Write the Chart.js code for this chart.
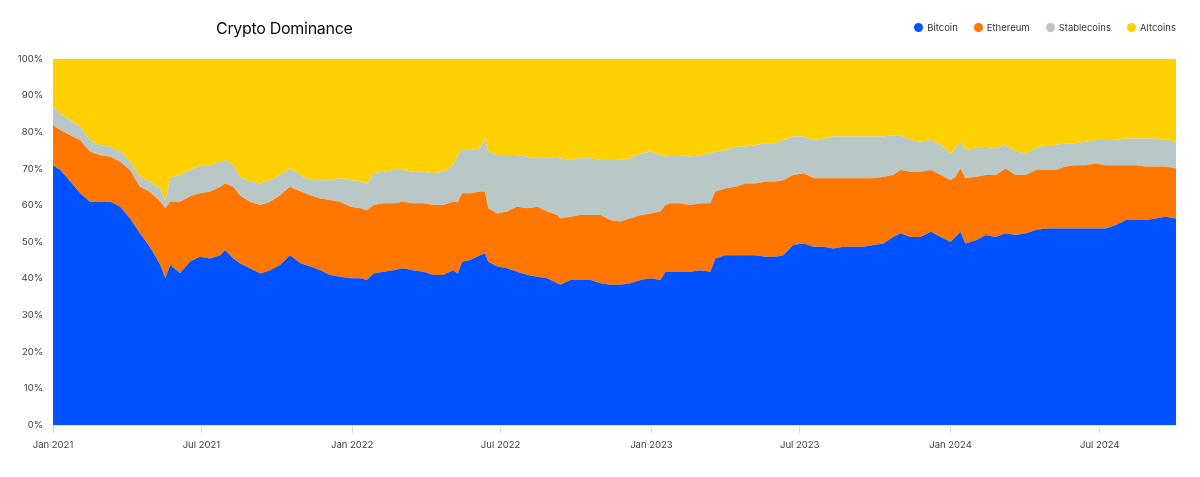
<!DOCTYPE html>
<html>
<head>
<meta charset="utf-8">
<script src="https://cdn.jsdelivr.net/npm/chart.js@4/dist/chart.umd.min.js"></script>
<style>
  html, body { margin: 0; padding: 0; background: #ffffff; }
  #wrap { position: relative; width: 1200px; height: 477px; font-family: Inter, "Noto Sans", sans-serif; }
  #title { position: absolute; left: 216px; top: 18px; font-size: 16px; color: #0a0b0d; letter-spacing: -0.3px; }
  #legend { position: absolute; right: 24px; top: 22px; display: flex; gap: 16px; font-size: 9.5px; color: #32353d; }
  #legend span.item { display: flex; align-items: center; }
  #legend i { display: inline-block; width: 9px; height: 9px; border-radius: 50%; margin-right: 4px; }
  canvas { position: absolute; left: 0; top: 0; }
</style>
</head>
<body>
<div id="wrap">
  <canvas id="c" width="1200" height="477"></canvas>
  <div id="title">Crypto Dominance</div>
  <div id="legend"></div>
</div>
<script>
// Days since 1 Jan 2021
const days = [0,9,21,33,45,57,70,82,94,106,118,131,137,143,155,167,179,192,204,210,220,228,240,253,265,277,289,302,314,326,338,350,363,375,383,391,403,415,427,439,452,464,476,488,494,499,509,521,527,531,542,554,566,579,591,603,615,619,631,643,656,668,680,692,704,717,729,741,747,753,765,778,790,802,808,820,833,845,857,869,881,891,903,916,928,940,952,964,977,989,1001,1013,1025,1034,1046,1058,1071,1083,1095,1101,1107,1113,1126,1138,1150,1162,1174,1187,1199,1211,1223,1235,1248,1260,1272,1284,1296,1309,1321,1333,1345,1357,1370];

const bitcoin = [71.0,69.7,66.5,63.4,61.0,61.0,61.0,59.6,56.4,52.4,48.7,43.7,40.1,43.7,41.5,44.6,46.0,45.5,46.4,47.8,45.5,44.2,42.8,41.4,42.3,43.7,46.4,44.2,43.3,42.3,41.0,40.5,40.1,40.1,39.6,41.4,41.9,42.3,42.8,42.3,41.9,41.0,41.0,42.3,41.4,44.6,45.1,46.4,46.9,44.6,43.3,42.8,41.9,41.0,40.5,40.1,38.7,38.3,39.6,39.6,39.6,38.7,38.3,38.3,38.7,39.6,40.1,39.6,41.9,41.9,41.9,41.9,42.3,41.9,45.5,46.4,46.4,46.4,46.4,46.0,46.0,46.4,49.2,49.6,48.7,48.7,48.2,48.7,48.7,48.7,49.2,49.6,51.4,52.4,51.4,51.4,52.8,51.4,50.1,51.4,52.8,49.6,50.5,51.9,51.4,52.4,51.9,52.4,53.3,53.7,53.7,53.7,53.7,53.7,53.7,53.7,54.6,56.0,56.0,56.0,56.4,56.9,56.4];

const ethereum = [10.8,10.9,12.7,14.5,13.7,12.8,12.3,12.3,13.3,12.7,15.0,17.3,19.1,17.3,19.5,17.8,17.3,18.3,18.7,18.2,19.6,18.6,18.2,18.7,18.7,19.1,18.7,19.6,19.5,19.6,20.5,20.5,19.5,19.1,19.1,18.7,18.7,18.3,18.2,18.3,18.7,19.1,19.1,18.7,19.6,18.7,18.2,17.4,16.9,14.6,14.5,15.5,17.7,18.2,19.1,18.2,18.7,18.1,17.3,17.8,17.8,18.7,17.7,17.3,17.7,17.8,17.7,18.7,18.2,18.7,18.7,18.2,18.3,18.7,18.3,18.2,18.7,19.6,19.6,20.5,20.5,20.5,19.1,19.2,18.7,18.7,19.2,18.7,18.7,18.7,18.2,18.2,16.9,17.3,17.8,17.8,16.9,16.9,16.8,16.4,17.3,17.8,17.3,16.4,16.9,17.7,16.4,15.9,16.4,16.0,16.0,16.9,17.3,17.3,17.8,17.3,16.4,15.0,15.0,14.6,14.2,13.7,13.7];

const stablecoins = [5.4,4.4,4.1,3.6,3.2,2.7,2.7,2.8,2.2,2.7,2.8,3.6,1.8,6.5,7.3,7.3,7.7,7.2,6.8,6.4,5.9,5.0,5.5,5.9,5.9,5.5,5.0,4.5,4.1,5.0,5.4,6.4,7.3,7.3,7.3,8.7,8.6,9.1,8.7,8.6,8.6,8.7,9.1,10.0,12.8,11.8,11.8,11.8,14.5,15.5,16.0,15.5,14.2,14.1,13.3,14.6,15.9,16.5,15.5,15.5,15.5,15.0,16.4,16.8,16.5,16.8,16.9,15.5,13.2,13.2,13.2,13.2,13.2,13.6,10.9,10.5,10.9,10.0,10.5,10.5,10.5,11.0,10.5,10.0,10.5,10.9,11.4,11.4,11.4,11.4,11.4,11.0,10.9,9.5,8.7,8.2,8.2,8.2,7.3,7.8,7.3,7.7,7.8,7.7,7.3,6.4,6.4,5.9,5.9,6.8,6.8,6.4,6.0,6.4,6.4,6.9,6.9,7.3,7.3,7.7,7.7,7.3,7.3];

const altcoins = [12.8,15.0,16.7,18.5,22.1,23.5,24.0,25.3,28.1,32.2,33.5,35.4,39.0,32.5,31.7,30.3,29.0,29.0,28.1,27.6,29.0,32.2,33.5,34.0,33.1,31.7,29.9,31.7,33.1,33.1,33.1,32.6,33.1,33.5,34.0,31.2,30.8,30.3,30.3,30.8,30.8,31.2,30.8,29.0,26.2,24.9,24.9,24.4,21.7,25.3,26.2,26.2,26.2,26.7,27.1,27.1,26.7,27.1,27.6,27.1,27.1,27.6,27.6,27.6,27.1,25.8,25.3,26.2,26.7,26.2,26.2,26.7,26.2,25.8,25.3,24.9,24.0,24.0,23.5,23.0,23.0,22.1,21.2,21.2,22.1,21.7,21.2,21.2,21.2,21.2,21.2,21.2,20.8,20.8,22.1,22.6,22.1,23.5,25.8,24.4,22.6,24.9,24.4,24.0,24.4,23.5,25.3,25.8,24.4,23.5,23.5,23.0,23.0,22.6,22.1,22.1,22.1,21.7,21.7,21.7,21.7,22.1,22.6];

const seriesNames = ['Bitcoin', 'Ethereum', 'Stablecoins', 'Altcoins'];
const seriesColors = ['#0052ff', '#ff7700', '#b9c8c6', '#ffd100'];

const tickDays = [0, 181, 365, 546, 730, 911, 1095, 1277];
const tickLabels = ['Jan 2021', 'Jul 2021', 'Jan 2022', 'Jul 2022', 'Jan 2023', 'Jul 2023', 'Jan 2024', 'Jul 2024'];
const yTicks = [0,10,20,30,40,50,60,70,80,90,100];

const seriesValues = [bitcoin, ethereum, stablecoins, altcoins];

// HTML legend
const legendEl = document.getElementById('legend');
seriesNames.forEach((n, i) => {
  const s = document.createElement('span');
  s.className = 'item';
  const dot = document.createElement('i');
  dot.style.background = seriesColors[i];
  s.appendChild(dot);
  s.appendChild(document.createTextNode(n));
  legendEl.appendChild(s);
});

const datasets = seriesNames.map((n, i) => ({
  label: n,
  data: days.map((d, j) => ({ x: d, y: seriesValues[i][j] })),
  backgroundColor: seriesColors[i],
  borderColor: seriesColors[i],
  borderWidth: 0,
  pointRadius: 0,
  tension: 0,
  fill: i === 0 ? 'origin' : '-1'
}));

new Chart(document.getElementById('c'), {
  type: 'line',
  data: { datasets },
  options: {
    responsive: false,
    animation: false,
    events: [],
    layout: { padding: { left: 0, right: 24, top: 59, bottom: 0 } },
    plugins: { legend: { display: false }, tooltip: { enabled: false }, title: { display: false } },
    scales: {
      x: {
        type: 'linear',
        min: 0,
        max: 1370,
        afterBuildTicks: (axis) => { axis.ticks = tickDays.map(v => ({ value: v })); },
        afterFit: (axis) => { axis.height = 52; },
        grid: { display: true, drawOnChartArea: false, drawTicks: true, tickLength: 8, color: '#d5dade', tickColor: '#d5dade' },
        border: { display: true, color: '#dfe3e6' },
        ticks: {
          autoSkip: false,
          maxRotation: 0,
          padding: 6,
          color: '#3a3d44',
          font: { family: 'Inter', size: 9.5 },
          callback: (v) => { const k = tickDays.indexOf(v); return k >= 0 ? tickLabels[k] : ''; }
        }
      },
      y: {
        stacked: true,
        min: 0,
        max: 100,
        afterBuildTicks: (axis) => { axis.ticks = yTicks.map(v => ({ value: v })); },
        afterFit: (axis) => { axis.width = 53; },
        grid: { display: false, drawTicks: false },
        border: { display: false },
        ticks: {
          padding: 10,
          color: '#3a3d44',
          font: { family: 'Inter', size: 9.5 },
          callback: (v) => v + '%'
        }
      }
    }
  }
});
</script>
</body>
</html>
